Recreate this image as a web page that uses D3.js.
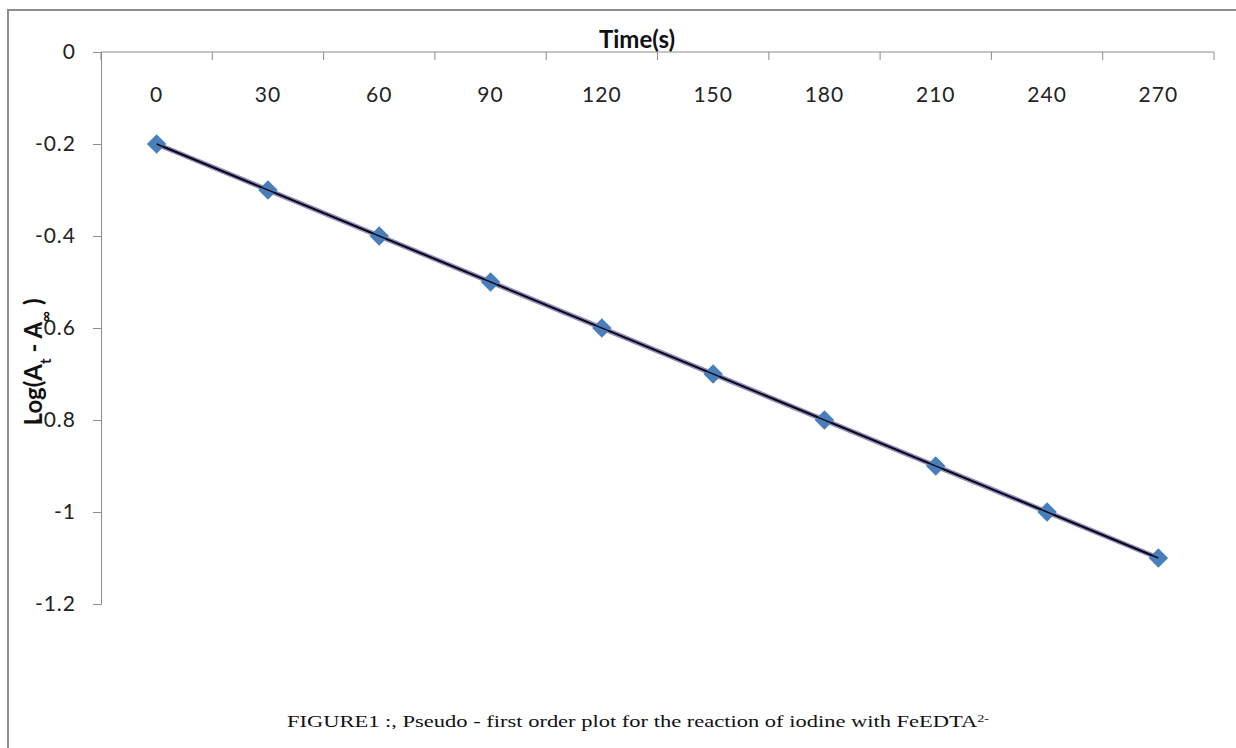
<!DOCTYPE html>
<html>
<head>
<meta charset="utf-8">
<script src="https://cdn.jsdelivr.net/npm/d3@7"></script>
<style>
  body { margin: 0; background: #fff; }
  svg { display: block; }
</style>
</head>
<body>
<div id="chart"></div>
<script>
// Data
const times = [0, 30, 60, 90, 120, 150, 180, 210, 240, 270];
const logValues = [-0.2, -0.3, -0.4, -0.5, -0.6, -0.7, -0.8, -0.9, -1.0, -1.1];
const yTicks = [0, -0.2, -0.4, -0.6, -0.8, -1, -1.2];

const W = 1236, H = 748;
const margin = { top: 52, right: 22, bottom: 144, left: 101 };
const plotW = W - margin.left - margin.right;
const plotH = H - margin.top - margin.bottom;
const tickFont = "Lato, 'Open Sans', sans-serif";

const svg = d3.select("#chart").append("svg")
    .attr("width", W)
    .attr("height", H);

// chart frame (runs off the right/bottom edges)
svg.append("rect")
    .attr("x", 8).attr("y", 10)
    .attr("width", W + 20).attr("height", H + 20)
    .attr("fill", "none")
    .attr("stroke", "#8c8c8c")
    .attr("stroke-width", 2);

const g = svg.append("g")
    .attr("transform", `translate(${margin.left},${margin.top})`);

// Scales
const xScale = d3.scaleBand()
    .domain(times)
    .range([0, plotW]);

const yScale = d3.scaleLinear()
    .domain([-1.2, 0])
    .range([plotH, 0]);

const xc = d => xScale(d) + xScale.bandwidth() / 2;

// X axis along the top (value 0), ticks between categories
const xAxis = g.append("g")
    .attr("class", "x-axis");
xAxis.append("line")
    .attr("x1", 0).attr("x2", plotW)
    .attr("y1", yScale(0)).attr("y2", yScale(0))
    .attr("stroke", "#8c8c8c");
xAxis.selectAll(".xtick")
    .data(times.concat(["end"]))
    .enter()
    .append("line")
    .attr("x1", (d, i) => i < times.length ? xScale(d) : plotW)
    .attr("x2", (d, i) => i < times.length ? xScale(d) : plotW)
    .attr("y1", yScale(0)).attr("y2", yScale(0) + 8)
    .attr("stroke", "#8c8c8c");
xAxis.selectAll(".xlabel")
    .data(times)
    .enter()
    .append("text")
    .attr("x", d => xc(d))
    .attr("y", 50)
    .attr("text-anchor", "middle")
    .attr("font-family", tickFont)
    .attr("font-size", 21)
    .attr("letter-spacing", 1)
    .attr("fill", "#222")
    .text(d => d);

// Y axis
const yAxis = d3.axisLeft(yScale)
    .tickValues(yTicks)
    .tickSize(8)
    .tickFormat(d => String(d));
const yg = g.append("g").attr("class", "y-axis").call(yAxis);
yg.select(".domain").attr("stroke", "#8c8c8c");
yg.selectAll(".tick line").attr("stroke", "#8c8c8c");
yg.selectAll(".tick text")
    .attr("x", -25)
    .attr("font-family", tickFont)
    .attr("font-size", 21)
    .attr("letter-spacing", 1)
    .attr("fill", "#222");

// Axis titles
g.append("text")
    .attr("x", 536)
    .attr("y", -4)
    .attr("text-anchor", "middle")
    .attr("font-family", tickFont)
    .attr("font-weight", "bold")
    .attr("font-size", 24)
    .attr("fill", "#111")
    .text("Time(s)");

const yLabel = svg.append("text")
    .attr("transform", "translate(42,362) rotate(-90)")
    .attr("text-anchor", "middle")
    .attr("font-family", tickFont)
    .attr("font-weight", "bold")
    .attr("font-size", 24)
    .attr("fill", "#111");
yLabel.append("tspan").text("Log(A");
yLabel.append("tspan").attr("baseline-shift", "sub").attr("font-size", 15).text("t");
yLabel.append("tspan").text(" - A");
yLabel.append("tspan").attr("baseline-shift", "sub").attr("font-size", 15).text("\u221E");
yLabel.append("tspan").text("    )");

// Trendline (linear fit through the data)
const n = times.length;
const mx = d3.mean(times), my = d3.mean(logValues);
const slope = d3.sum(times, (t, i) => (t - mx) * (logValues[i] - my)) /
              d3.sum(times, t => (t - mx) * (t - mx));
const intercept = my - slope * mx;
const trend = [times[0], times[n - 1]].map(t => ({ t, v: intercept + slope * t }));

const line = d3.line()
    .x(d => xc(d.t))
    .y(d => yScale(d.v));

g.append("path")
    .attr("d", line(trend))
    .attr("fill", "none")
    .attr("stroke", "#6a64a8")
    .attr("stroke-opacity", 0.75)
    .attr("stroke-width", 5);
g.append("path")
    .attr("d", line(trend))
    .attr("fill", "none")
    .attr("stroke", "#0b0b1a")
    .attr("stroke-width", 2);

// Diamond markers
const diamond = d3.symbol().type(d3.symbolSquare).size(190);
g.selectAll(".pt")
    .data(times.map((t, i) => ({ t, v: logValues[i] })))
    .enter()
    .append("path")
    .attr("class", "pt")
    .attr("d", diamond)
    .attr("transform", d => `translate(${xc(d.t)},${yScale(d.v)}) rotate(45)`)
    .attr("fill", "#4a7ebb");

// trendline core over the markers, as in the reference
g.append("path")
    .attr("d", line(trend))
    .attr("fill", "none")
    .attr("stroke", "#0b0b1a")
    .attr("stroke-width", 1.5);

// Caption
const caption = svg.append("text")
    .attr("x", 287)
    .attr("y", 727)
    .attr("font-family", "'Liberation Serif', 'Times New Roman', serif")
    .attr("font-size", 16)
    .attr("fill", "#111")
    .attr("textLength", 702)
    .attr("lengthAdjust", "spacingAndGlyphs");
caption.append("tspan").text("FIGURE1 :, Pseudo - first order plot for the reaction of iodine with FeEDTA");
caption.append("tspan").attr("baseline-shift", "super").attr("font-size", 10).text("2-");
</script>
</body>
</html>
